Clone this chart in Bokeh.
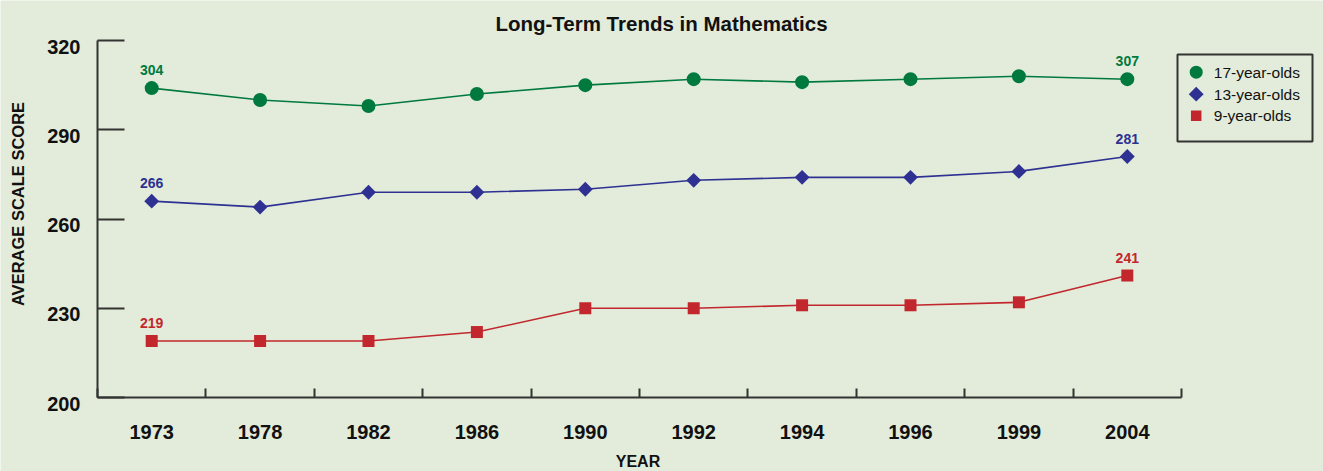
import numpy as np
from bokeh.plotting import figure
from bokeh.models import Range1d, FixedTicker, LinearAxis, Label
from bokeh.core.properties import value
from bokeh.embed import file_html
from bokeh.resources import INLINE

# ---- data ----
years = ["1973", "1978", "1982", "1986", "1990", "1992", "1994", "1996", "1999", "2004"]
age17 = [304, 300, 298, 302, 305, 307, 306, 307, 308, 307]
age13 = [266, 264, 269, 269, 270, 273, 274, 274, 276, 281]
age9 = [219, 219, 219, 222, 230, 230, 231, 231, 232, 241]
series_names = ["17-year-olds", "13-year-olds", "9-year-olds"]
y_ticks = [200, 230, 260, 290, 320]

# ---- style / layout ----
BG = "#e3ecda"
FONT = "Liberation Sans"
AX = "#333333"
TXT = "#111111"
colors = ["#00793f", "#2e3192", "#c1272d"]
markers = ["circle", "square", "square"]
angles = [0.0, np.pi / 4, 0.0]
sizes = [14, 10.5, 12]
leg_sizes = [13, 10.5, 10.5]

W, H = 1323, 471
AX_LEFT, AX_RIGHT = 97, 1181      # pixel extent of the x axis
AX_TOP, AX_BOTTOM = 40, 397       # pixel extent of the y axis
n = len(years)
y0, y1 = 200, 320
cat_px = (AX_RIGHT - AX_LEFT) / n
ppu = (AX_BOTTOM - AX_TOP) / (y1 - y0)


def dx(px):
    return (px - AX_LEFT) / cat_px


def dy(py):
    return y1 - (py - AX_TOP) / ppu


p = figure(width=W, height=H,
           x_range=Range1d(dx(0), dx(W)), y_range=Range1d(dy(H), dy(0)),
           output_backend="svg", toolbar_location=None,
           min_border_left=0, min_border_right=0, min_border_top=0, min_border_bottom=0,
           background_fill_color=BG, border_fill_color=BG, outline_line_color=None)
p.grid.visible = False

xs = [i + 0.5 for i in range(n)]

# x axis: labels centred in categories, tick marks at category boundaries
xa = p.xaxis[0]
xa.fixed_location = y0
xa.bounds = (0, n)
xa.ticker = FixedTicker(ticks=xs, minor_ticks=list(range(n + 1)))
xa.major_label_overrides = {x: y for x, y in zip(xs, years)}
xa.major_tick_in = 0
xa.major_tick_out = 0
xa.major_tick_line_color = None
xa.minor_tick_in = 9
xa.minor_tick_out = 0
xa.minor_tick_line_width = 2
xa.minor_tick_line_color = AX
xa.axis_line_width = 2
xa.axis_line_color = AX
xa.major_label_standoff = 27
xa.major_label_text_font = FONT
xa.major_label_text_font_size = "20px"
xa.major_label_text_font_style = "bold"
xa.major_label_text_color = TXT

# y axis: line and inward ticks
ya = p.yaxis[0]
ya.fixed_location = 0
ya.bounds = (y0, y1)
ya.ticker = FixedTicker(ticks=y_ticks)
ya.major_tick_in = 27
ya.major_tick_out = 0
ya.major_tick_line_width = 2
ya.major_tick_line_color = AX
ya.minor_tick_line_color = None
ya.axis_line_width = 2
ya.axis_line_color = AX
ya.major_label_overrides = {t: "" for t in y_ticks}

# y tick labels, sitting slightly below their ticks as in the original
shift = 6 / ppu
p.extra_y_ranges = {"lab": Range1d(dy(H) + shift, dy(0) + shift)}
yl = LinearAxis(y_range_name="lab", ticker=FixedTicker(ticks=y_ticks),
                fixed_location=0, bounds=(y0, y1),
                axis_line_color=None, major_tick_line_color=None,
                minor_tick_line_color=None, major_tick_in=0, major_tick_out=0,
                major_label_standoff=17,
                major_label_text_font=FONT, major_label_text_font_size="20px",
                major_label_text_font_style="bold", major_label_text_color=TXT)
p.add_layout(yl, "left")

for vals, c, m, a, s in zip([age17, age13, age9], colors, markers, angles, sizes):
    p.line(xs, vals, line_color=c, line_width=1.6)
    p.scatter(xs, vals, marker=m, angle=a, size=s, fill_color=c, line_color=None)
    p.text(x=[xs[0], xs[-1]], y=[vals[0], vals[-1]], text=[str(vals[0]), str(vals[-1])],
           text_align="center", text_baseline="alphabetic", y_offset=-18,
           text_font=value(FONT), text_font_style="bold", text_font_size="14px",
           text_color=c)

# legend box
p.quad(left=dx(1177), right=dx(1312), top=dy(54), bottom=dy(141),
       fill_color=BG, line_color=AX, line_width=2)
leg_y = [dy(71.7), dy(93.7), dy(115.3)]
p.scatter(x=[dx(1195.7)] * 3, y=leg_y, marker=markers, angle=angles, size=leg_sizes,
          fill_color=colors, line_color=None)
p.text(x=[dx(1213.3)] * 3, y=leg_y, text=series_names, text_align="left",
       text_baseline="middle", text_font=value(FONT), text_font_size="15.5px",
       text_color=TXT)

p.add_layout(Label(x=dx(661), y=dy(22.5), text="Long-Term Trends in Mathematics",
                   text_align="center", text_baseline="middle", text_font=FONT,
                   text_font_size="20.5px", text_font_style="bold", text_color=TXT))
p.add_layout(Label(x=dx(637.5), y=dy(460.5), text="YEAR",
                   text_align="center", text_baseline="middle", text_font=FONT,
                   text_font_size="16px", text_font_style="bold", text_color=TXT))
p.add_layout(Label(x=dx(17.5), y=dy(203.5), text="AVERAGE SCALE SCORE", angle=np.pi / 2,
                   text_align="center", text_baseline="middle", text_font=FONT,
                   text_font_size="16.5px", text_font_style="bold", text_color=TXT))

open("out.html", "w").write(file_html(p, INLINE))
